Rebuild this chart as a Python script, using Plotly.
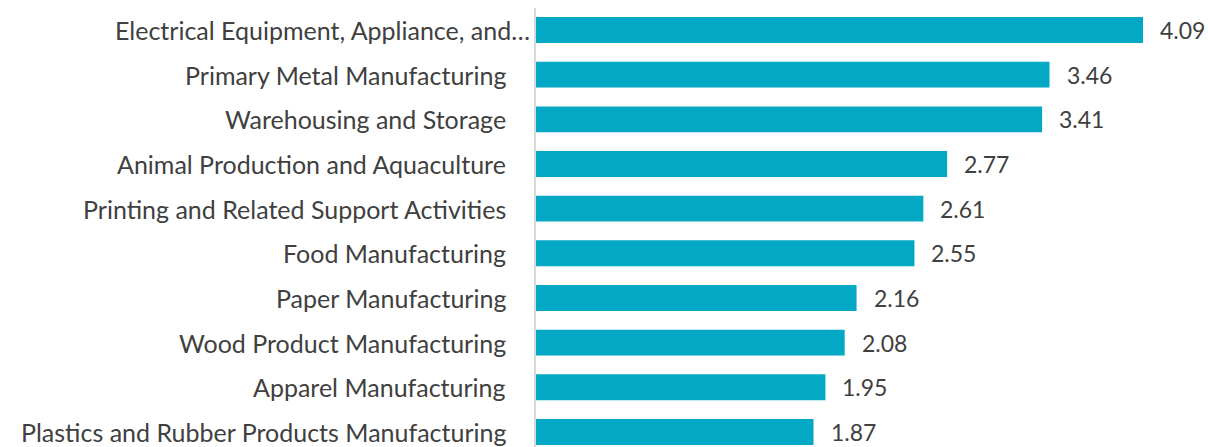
"""
Horizontal bar chart of industry values (top 10).
"""

import plotly.graph_objects as go

CATEGORIES = [
    "Electrical Equipment, Appliance, and…",
    "Primary Metal Manufacturing",
    "Warehousing and Storage",
    "Animal Production and Aquaculture",
    "Printing and Related Support Activities",
    "Food Manufacturing",
    "Paper Manufacturing",
    "Wood Product Manufacturing",
    "Apparel Manufacturing",
    "Plastics and Rubber Products Manufacturing",
]
VALUES = [4.09, 3.46, 3.41, 2.77, 2.61, 2.55, 2.16, 2.08, 1.95, 1.87]
VALUE_LABELS = ["4.09", "3.46", "3.41", "2.77", "2.61", "2.55", "2.16", "2.08", "1.95", "1.87"]

BAR_COLOR = "#03A8C5"
TEXT_COLOR = "#404040"
FONT = "Lato"

fig = go.Figure(
    go.Bar(
        x=VALUES,
        y=CATEGORIES,
        orientation="h",
        marker_color=BAR_COLOR,
        marker_line_width=0,
        width=0.58,
        hoverinfo="skip",
    )
)

annotations = []
for i, (cat, val, lab) in enumerate(zip(CATEGORIES, VALUES, VALUE_LABELS)):
    # category label, the truncated first one sits closer to the axis
    annotations.append(
        dict(
            x=0, xref="paper", y=cat, yref="y",
            text=cat, showarrow=False, xanchor="right",
            xshift=-4 if i == 0 else -28,
            font=dict(family=FONT, size=25, color=TEXT_COLOR),
        )
    )
    annotations.append(
        dict(
            x=val, y=cat, text=lab, showarrow=False, xanchor="left",
            xshift=15,
            font=dict(family=FONT, size=23, color=TEXT_COLOR),
        )
    )

fig.update_layout(
    width=1208,
    height=447,
    margin=dict(l=536, r=0, t=8, b=0),
    plot_bgcolor="white",
    paper_bgcolor="white",
    showlegend=False,
    annotations=annotations,
    xaxis=dict(range=[0, 4.528], visible=False, fixedrange=True),
    yaxis=dict(
        categoryorder="array",
        categoryarray=CATEGORIES,
        range=[9.336, -0.4925],
        showticklabels=False,
        showgrid=False,
        showline=True,
        linecolor="#d9d9d9",
        linewidth=2,
        zeroline=False,
        fixedrange=True,
    ),
)

# drop the default body margin so the figure fills the window exactly
fig.write_html(
    "out.html",
    config={"displayModeBar": False},
    post_script="document.body.style.margin='0';document.body.style.overflow='hidden';",
)
